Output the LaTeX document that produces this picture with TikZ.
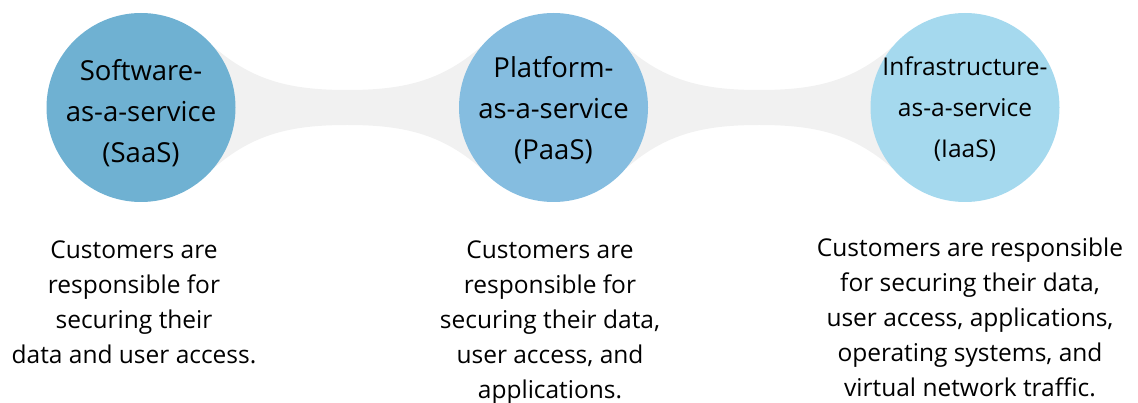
\documentclass[tikz,border=0pt]{standalone}
\usepackage{fontspec}
\setmainfont{Open Sans}
\usetikzlibrary{backgrounds}

\definecolor{saasblue}{HTML}{6FB1D2}
\definecolor{paasblue}{HTML}{85BDE0}
\definecolor{iaasblue}{HTML}{A5D9EE}
\definecolor{bandgray}{HTML}{F1F1F1}

\begin{document}
\begin{tikzpicture}[x=1pt, y=-1pt,
		model/.style={circle, minimum size=189pt, inner sep=0pt},
		label/.style={align=center, inner sep=0pt, font=\fontsize{27.5}{41}\selectfont},
		note/.style={align=center, inner sep=0pt, anchor=north,
			font=\fontsize{24.5}{35}\selectfont},
		band/.style={fill=bandgray}]
			\useasboundingbox (0,0) rectangle (1138,403);

			\def\yC{107.5};
			\def\w{17.5};

			\begin{scope}
				\node[model, fill=saasblue] (saas) at (141,\yC) {};
				\node[model, fill=paasblue] (paas) at (553.5,\yC) {};
				\node[model, fill=iaasblue] (iaas) at (965,\yC) {};
			\end{scope}

			\begin{scope}[on background layer]
				\foreach \a/\b in {saas/paas, paas/iaas}
				{
					\path (\a) -- (\b) coordinate[pos=0.5] (mid);
					\fill[band] (\a.center) -- (\a.40)
						.. controls +(40,35) and +(-55,0) .. ([yshift=\w pt]mid)
						.. controls +(55,0) and +(-40,35) .. (\b.140) -- (\b.center) -- (\b.220)
						.. controls +(-40,-35) and +(55,0) .. ([yshift=-\w pt]mid)
						.. controls +(-55,0) and +(40,-35) .. (\a.-40) -- cycle;
				}
			\end{scope}

			\begin{scope}
				\node[label] (saaslabel) at ([yshift=-6pt]saas) {Software-\\as-a-service\\(SaaS)};
				\node[label] (paaslabel) at ([yshift=-3pt]paas) {Platform-\\as-a-service\\(PaaS)};
				\node[label, font=\fontsize{24.5}{41}\selectfont] (iaaslabel) at ([yshift=-2pt]iaas) {Infrastructure-\\as-a-service\\(IaaS)};
			\end{scope}

			\begin{scope}
				\node[note] (saasnote) at (134,241) {Customers are\\responsible for\\securing their\\data and user access.};
				\node[note] (paasnote) at (550,241) {Customers are\\responsible for\\securing their data,\\user access, and\\applications.};
				\node[note] (iaasnote) at (970,238) {Customers are responsible\\for securing their data,\\user access, applications,\\operating systems, and\\virtual network traffic.};
			\end{scope}
		\end{tikzpicture}
\end{document}
